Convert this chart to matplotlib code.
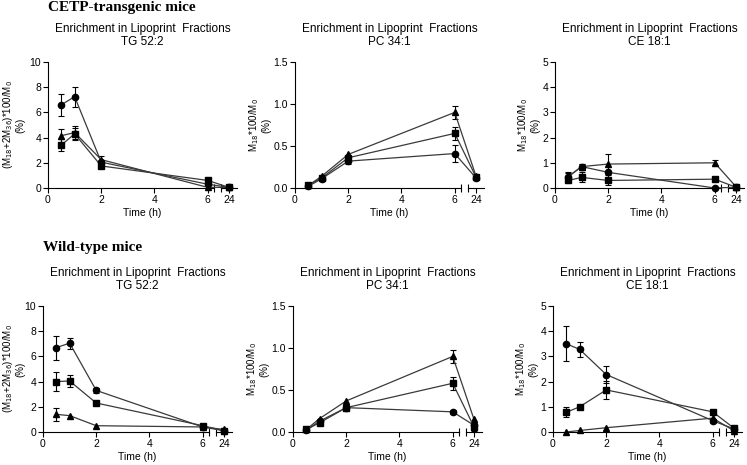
import numpy as np
import matplotlib
matplotlib.use("Agg")
import matplotlib.pyplot as plt
from matplotlib.spines import Spine

plt.rcParams['font.family'] = ['Liberation Sans', 'DejaVu Sans']
plt.rcParams['font.size'] = 7.5

# ===== data =====
times = [0.5, 1, 2, 6, 24]
xticks = [0, 2, 4, 6, 24]

panel_titles = ["TG 52:2", "PC 34:1", "CE 18:1"]
ylabels = ["(M$_{18}$+2M$_{36}$)*100/M$_0$\n(%)",
           "M$_{18}$*100/M$_0$\n(%)",
           "M$_{18}$*100/M$_0$\n(%)"]
ylims = [10, 1.5, 5]
yticks = [[0, 2, 4, 6, 8, 10], [0.0, 0.5, 1.0, 1.5], [0, 1, 2, 3, 4, 5]]
yfmt = ["%d", "%.1f", "%d"]
groups = ["CETP-transgenic mice", "Wild-type mice"]

# CETP-transgenic: circle / square / triangle, mean and SEM
cetp_tg_circ = [6.6, 7.25, 2.05, 0.3, 0.05]
cetp_tg_circ_err = [0.85, 0.8, 0, 0, 0]
cetp_tg_sq = [3.4, 4.3, 1.75, 0.6, 0.05]
cetp_tg_sq_err = [0.45, 0.5, 0, 0, 0]
cetp_tg_tri = [4.15, 4.4, 2.25, 0.05, 0.05]
cetp_tg_tri_err = [0.55, 0.5, 0.3, 0, 0]

cetp_pc_circ = [0.02, 0.11, 0.32, 0.41, 0.12]
cetp_pc_circ_err = [0, 0, 0.04, 0.1, 0]
cetp_pc_sq = [0.03, 0.12, 0.36, 0.65, 0.13]
cetp_pc_sq_err = [0, 0, 0, 0.08, 0]
cetp_pc_tri = [0.03, 0.14, 0.40, 0.90, 0.14]
cetp_pc_tri_err = [0, 0, 0, 0.08, 0]

cetp_ce_circ = [0.45, 0.85, 0.62, 0.0, 0.03]
cetp_ce_circ_err = [0.15, 0.1, 0, 0, 0]
cetp_ce_sq = [0.3, 0.42, 0.3, 0.35, 0.03]
cetp_ce_sq_err = [0.1, 0.2, 0.2, 0, 0]
cetp_ce_tri = [0.45, 0.85, 0.95, 1.0, 0.05]
cetp_ce_tri_err = [0.2, 0.12, 0.4, 0.12, 0]

# Wild-type
wt_tg_circ = [6.7, 7.05, 3.3, 0.4, 0.1]
wt_tg_circ_err = [0.95, 0.45, 0.2, 0, 0]
wt_tg_sq = [4.0, 4.05, 2.3, 0.5, 0.1]
wt_tg_sq_err = [0.75, 0.45, 0, 0.15, 0]
wt_tg_tri = [1.4, 1.3, 0.5, 0.4, 0.2]
wt_tg_tri_err = [0.5, 0, 0, 0, 0]

wt_pc_circ = [0.02, 0.13, 0.29, 0.24, 0.08]
wt_pc_circ_err = [0, 0, 0, 0.02, 0]
wt_pc_sq = [0.03, 0.11, 0.29, 0.58, 0.06]
wt_pc_sq_err = [0, 0, 0, 0.08, 0.05]
wt_pc_tri = [0.03, 0.16, 0.37, 0.90, 0.15]
wt_pc_tri_err = [0, 0, 0, 0.08, 0]

wt_ce_circ = [3.5, 3.28, 2.28, 0.45, 0.12]
wt_ce_circ_err = [0.7, 0.3, 0.35, 0.08, 0]
wt_ce_sq = [0.78, 1.0, 1.67, 0.8, 0.15]
wt_ce_sq_err = [0.2, 0, 0.35, 0.05, 0]
wt_ce_tri = [0.0, 0.06, 0.17, 0.55, 0.05]
wt_ce_tri_err = [0, 0, 0, 0, 0]

rows = [
    [(cetp_tg_circ, cetp_tg_circ_err, cetp_tg_sq, cetp_tg_sq_err, cetp_tg_tri, cetp_tg_tri_err),
     (cetp_pc_circ, cetp_pc_circ_err, cetp_pc_sq, cetp_pc_sq_err, cetp_pc_tri, cetp_pc_tri_err),
     (cetp_ce_circ, cetp_ce_circ_err, cetp_ce_sq, cetp_ce_sq_err, cetp_ce_tri, cetp_ce_tri_err)],
    [(wt_tg_circ, wt_tg_circ_err, wt_tg_sq, wt_tg_sq_err, wt_tg_tri, wt_tg_tri_err),
     (wt_pc_circ, wt_pc_circ_err, wt_pc_sq, wt_pc_sq_err, wt_pc_tri, wt_pc_tri_err),
     (wt_ce_circ, wt_ce_circ_err, wt_ce_sq, wt_ce_sq_err, wt_ce_tri, wt_ce_tri_err)],
]

# ===== broken time axis: 0-6.25 linear, gap, 23.5-24.5 =====
xp = [-100, 6.25, 23.5, 24.5, 100]
fp = [-100, 6.25, 6.5, 7.1, 7.1 + 75.5 * 0.6]

def fwd(x):
    return np.interp(np.asarray(x, float), xp, fp)

def inv(y):
    return np.interp(np.asarray(y, float), fp, xp)

W, H = 747, 465
fig = plt.figure(figsize=(W / 100, H / 100), dpi=100)

lefts = [[48, 295, 555], [43, 293, 553]]
tops = [62, 306]
aw, ah = 189, 126

t = np.array(times)
for r in range(2):
    for c in range(3):
        ax = fig.add_axes([lefts[r][c] / W, 1 - (tops[r] + ah) / H, aw / W, ah / H])
        ax.set_xscale('function', functions=(fwd, inv))
        ax.set_xlim(0, 24.5)
        ax.set_ylim(0, ylims[c])
        circ, circ_e, sq, sq_e, tri, tri_e = rows[r][c]
        for y, e, m in [(tri, tri_e, '^'), (sq, sq_e, 's'), (circ, circ_e, 'o')]:
            y = np.array(y)
            e = np.array(e)
            ax.plot(t, y, color='#3a3a3a', lw=0.9, marker=m, ms=4.5,
                    mfc='black', mec='black', clip_on=False, zorder=3)
            k = e > 0
            ax.errorbar(t[k], y[k], yerr=e[k], fmt='none', ecolor='black',
                        elinewidth=0.8, capsize=2.5, capthick=0.8, clip_on=False)
        ax.spines['top'].set_visible(False)
        ax.spines['right'].set_visible(False)
        ax.spines['bottom'].set_bounds(0, 6.25)
        sp = Spine.linear_spine(ax, 'bottom')
        sp.set_bounds(23.5, 24.5)
        ax.spines['bottom2'] = sp
        ax.set_xticks(xticks)
        ax.set_xticklabels([str(v) for v in xticks])
        ax.set_xticks([6.25, 23.5], minor=True)
        ax.tick_params(axis='x', which='minor', direction='inout', length=6, width=0.8)
        ax.tick_params(axis='both', which='major', direction='out', length=3.5,
                       width=0.8, labelsize=7.5, pad=1.5)
        ax.set_yticks(yticks[c])
        ax.set_yticklabels([yfmt[c] % v for v in yticks[c]])
        ax.set_xlabel("Time (h)", fontsize=7.5, labelpad=2)
        ax.set_ylabel(ylabels[c], fontsize=7, labelpad=1.5, linespacing=1.0)
        if c == 0:
            # label sits close to the left figure edge
            ax.yaxis.set_label_coords((25 - lefts[r][c]) / aw, 0.5)
        ax.set_title("Enrichment in Lipoprint  Fractions\n" + panel_titles[c],
                     fontsize=8.5, pad=12, linespacing=1.15)

fig.text(48 / W, 1 - 8 / H, groups[0], family='Liberation Serif', weight='bold',
         fontsize=11, va='center', ha='left')
fig.text(43 / W, 1 - 247 / H, groups[1], family='Liberation Serif', weight='bold',
         fontsize=11, va='center', ha='left')

fig.savefig("out.png", dpi=100)
